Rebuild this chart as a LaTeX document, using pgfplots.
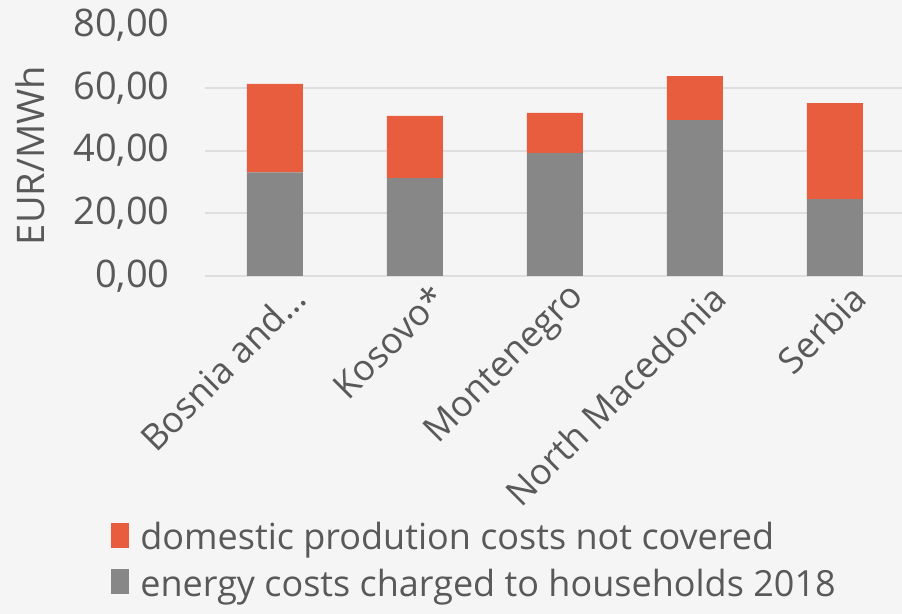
\documentclass[border=0pt]{standalone}
\usepackage{fontspec}
\setmainfont{Open Sans}
\usepackage{pgfplots}
\pgfplotsset{compat=1.18}
\definecolor{bgcol}{HTML}{F5F5F5}
\definecolor{txtcol}{HTML}{595959}
\definecolor{barorange}{HTML}{E95D3F}
\definecolor{bargray}{HTML}{878787}
\definecolor{gridcol}{HTML}{DEDEDE}

\begin{document}
\begin{tikzpicture}
\fill[bgcol] (-102.5pt,-169pt) rectangle (348.5pt,138pt);
\begin{axis}[
    scale only axis,
    width=350pt,
    height=125.5pt,
    ybar stacked,
    bar width=28pt,
    xmin=-0.5, xmax=4.5,
    ymin=0, ymax=80,
    xtick=data,
    xticklabels={Bosnia and…,Kosovo*,Montenegro,North Macedonia,Serbia},
    ytick={0,20,40,60},
    extra y ticks={80},
    extra y tick style={grid=none},
    ymajorgrids=true,
    grid style={gridcol,line width=1pt},
    axis lines*=left,
    x axis line style={gridcol,line width=1pt},
    y axis line style={draw=none},
    major tick length=0pt,
    tick label style={text=txtcol},
    yticklabel style={font=\fontsize{19}{22}\selectfont,inner sep=0pt,xshift=-17.5pt},
    xticklabel style={font=\fontsize{18}{21}\selectfont,rotate=45,anchor=east,inner sep=0pt,yshift=-14pt,xshift=3pt},
    /pgf/number format/.cd,fixed,fixed zerofill,precision=2,use comma,assume math mode=true,
    /pgfplots/.cd,
    ylabel={EUR/MWh},
    every axis y label/.style={at={(axis description cs:-0.25,0.48)},rotate=90,anchor=center,
        font=\fontsize{19}{22}\selectfont,text=txtcol},
    reverse legend,
    legend image code/.code={\fill[#1,draw=none] (0pt,-5pt) rectangle (9pt,7.5pt);},
    legend style={at={(axis description cs:0,0)},anchor=north west,xshift=-50pt,yshift=-121pt,
        draw=none,fill=none,font=\fontsize{18}{21}\selectfont,text=txtcol,
        row sep=8pt,nodes={inner ysep=0pt,inner xsep=5.5pt}},
    legend cell align=left,
]
\addplot[fill=bargray,draw=none] coordinates {(0,33.0) (1,31.2) (2,39.2) (3,49.7) (4,24.5)};
\addlegendentry{energy costs charged to households 2018}
\addplot[fill=barorange,draw=none] coordinates {(0,28.2) (1,19.8) (2,12.8) (3,14.0) (4,30.6)};
\addlegendentry{domestic prodution costs not covered}
\end{axis}
\pgfresetboundingbox
\path (-102.5pt,-169pt) rectangle (348.5pt,138pt);
\end{tikzpicture}
\end{document}
